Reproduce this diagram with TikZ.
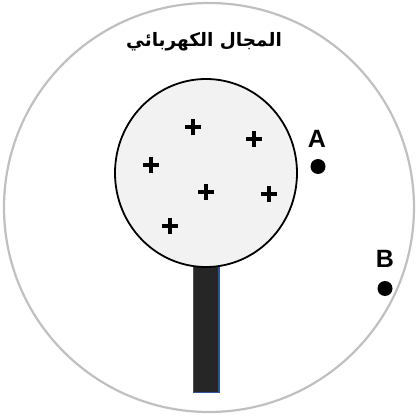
\documentclass[tikz,border=0pt]{standalone}
\usepackage{fontspec}
\setmainfont{Liberation Sans}
\newfontfamily\arabicfont[Script=Arabic]{DejaVu Sans}
\TeXXeTstate=1
\definecolor{ringgray}{HTML}{C0C0C0}
\definecolor{ballfill}{HTML}{F2F2F2}
\definecolor{handlefill}{HTML}{262626}
\definecolor{handleedge}{HTML}{2F5597}
\tikzset{
  plus/.style={line width=3.3pt, line cap=butt},
  pointdot/.style={circle, fill=black, inner sep=0pt, minimum size=15pt},
  ptlabel/.style={font=\bfseries\fontsize{25}{25}\selectfont, inner sep=0pt},
}
\begin{document}
\begin{tikzpicture}[x=1pt,y=-1pt]
\useasboundingbox (0,0) rectangle (416,415);
\begin{scope}
\clip (0,0) rectangle (416,415);
% outer field
\draw[ringgray, line width=2.2pt] (209,207.5) ellipse [x radius=205, y radius=204.5];
% title
\node[font=\arabicfont\bfseries\fontsize{18.5}{18.5}\selectfont] (title) at (204,42) {\beginR المجال الكهربائي\endR};
% handle
\draw[handleedge, fill=handlefill, line width=1.4pt] (193.5,260) rectangle (219,392.5);
\coordinate (handle) at (206,330);
% sphere
\draw[black, fill=ballfill, line width=1.8pt] (206,173) ellipse [x radius=91, y radius=94];
\coordinate (sphere) at (206,173);
% charges
\foreach \n/\x/\y in {p1/193/127, p2/254/139, p3/151/165, p4/206/192, p5/269/194, p6/170/226}{
  \coordinate (\n) at (\x,\y);
  \draw[plus] ([xshift=-8pt]\n) -- ([xshift=8pt]\n);
  \draw[plus] ([yshift=-8pt]\n) -- ([yshift=8pt]\n);
}
% points
\node[pointdot] (A) at (318,166.5) {};
\node[ptlabel] (Alab) at (317,138.5) {A};
\node[pointdot] (B) at (385,288.5) {};
\node[ptlabel] (Blab) at (385,259) {B};
\end{scope}
\end{tikzpicture}
\end{document}
